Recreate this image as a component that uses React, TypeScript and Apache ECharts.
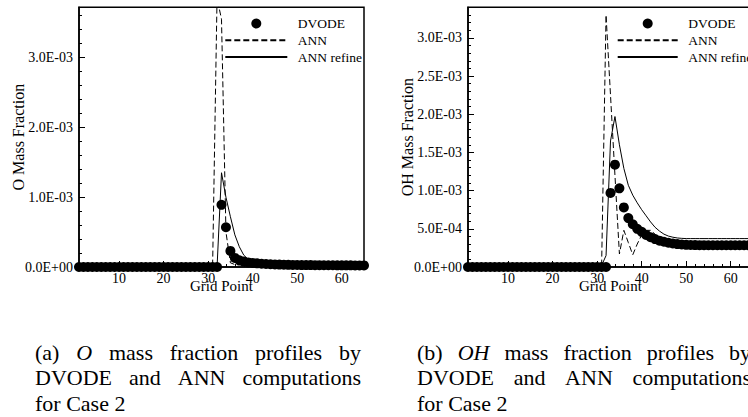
import React, { useEffect, useRef } from "react";
import * as echarts from "echarts";

// Grid point indices (x axis)
const gridPoints = [
  1, 2, 3, 4, 5, 6, 7, 8, 9, 10, 11, 12, 13, 14, 15, 16, 17, 18, 19, 20,
  21, 22, 23, 24, 25, 26, 27, 28, 29, 30, 31, 32, 33, 34, 35, 36, 37, 38, 39, 40,
  41, 42, 43, 44, 45, 46, 47, 48, 49, 50, 51, 52, 53, 54, 55, 56, 57, 58, 59, 60,
  61, 62, 63, 64, 65,
];

// Tick positions
const xMajorTicks = [10, 20, 30, 40, 50, 60];
const xMinorTicks = [2, 4, 6, 8, 12, 14, 16, 18, 22, 24, 26, 28, 32, 34, 36, 38, 42, 44, 46, 48, 52, 54, 56, 58, 62, 64];
const oMajorTicks = [0, 0.001, 0.002, 0.003];
const oMinorTicks = [0.0002, 0.0004, 0.0006, 0.0008, 0.0012, 0.0014, 0.0016, 0.0018, 0.0022, 0.0024, 0.0026, 0.0028, 0.0032, 0.0034, 0.0036];
const ohMajorTicks = [0, 0.0005, 0.001, 0.0015, 0.002, 0.0025, 0.003];
const ohMinorTicks = [
  0.0001, 0.0002, 0.0003, 0.0004, 0.0006, 0.0007, 0.0008, 0.0009, 0.0011, 0.0012, 0.0013, 0.0014,
  0.0016, 0.0017, 0.0018, 0.0019, 0.0021, 0.0022, 0.0023, 0.0024, 0.0026, 0.0027, 0.0028, 0.0029,
  0.0031, 0.0032, 0.0033,
];
const oYMax = 0.00372;
const ohYMax = 0.0034;

// Values in units of 1E-03
const UNIT = 0.001;
const oDvode = [
  0, 0, 0, 0, 0, 0, 0, 0, 0, 0, 0, 0, 0, 0, 0, 0, 0, 0, 0, 0, 0, 0, 0, 0, 0, 0, 0, 0, 0, 0, 0, 0,
  0.89, 0.57, 0.23, 0.13, 0.095, 0.078, 0.066, 0.058, 0.052, 0.047, 0.043, 0.04, 0.037, 0.035, 0.033,
  0.031, 0.03, 0.029, 0.028, 0.027, 0.027, 0.026, 0.026, 0.025, 0.025, 0.025, 0.024, 0.024, 0.024,
  0.024, 0.023, 0.023, 0.023,
];
const oAnn = [
  0, 0, 0, 0, 0, 0, 0, 0, 0, 0, 0, 0, 0, 0, 0, 0, 0, 0, 0, 0, 0, 0, 0, 0, 0, 0, 0, 0, 0, 0, 0,
  3.85, 3.55, 0.5, 0.06, 0.035, 0.03, 0.03, 0.028, 0.027, 0.026, 0.025, 0.025, 0.024, 0.024, 0.023,
  0.023, 0.023, 0.022, 0.022, 0.022, 0.022, 0.021, 0.021, 0.021, 0.021, 0.021, 0.02, 0.02, 0.02,
  0.02, 0.02, 0.02, 0.02, 0.02,
];
const oRefine = [
  0, 0, 0, 0, 0, 0, 0, 0, 0, 0, 0, 0, 0, 0, 0, 0, 0, 0, 0, 0, 0, 0, 0, 0, 0, 0, 0, 0, 0, 0, 0, 0,
  1.35, 1.0, 0.72, 0.46, 0.29, 0.17, 0.11, 0.08, 0.065, 0.055, 0.05, 0.045, 0.042, 0.04, 0.039,
  0.038, 0.037, 0.036, 0.035, 0.035, 0.035, 0.035, 0.035, 0.035, 0.035, 0.035, 0.035, 0.035, 0.035,
  0.035, 0.035, 0.035, 0.035,
];
const ohDvode = [
  0, 0, 0, 0, 0, 0, 0, 0, 0, 0, 0, 0, 0, 0, 0, 0, 0, 0, 0, 0, 0, 0, 0, 0, 0, 0, 0, 0, 0, 0, 0, 0,
  0.97, 1.34, 1.03, 0.78, 0.64, 0.56, 0.5, 0.46, 0.42, 0.39, 0.365, 0.345, 0.33, 0.318, 0.308, 0.3,
  0.295, 0.29, 0.288, 0.287, 0.286, 0.286, 0.285, 0.285, 0.285, 0.285, 0.285, 0.285, 0.285, 0.285,
  0.285, 0.285, 0.285,
];
const ohAnn = [
  0, 0, 0, 0, 0, 0, 0, 0, 0, 0, 0, 0, 0, 0, 0, 0, 0, 0, 0, 0, 0, 0, 0, 0, 0, 0, 0, 0, 0, 0, 0,
  3.3, 2.25, 1.2, 0.17, 0.48, 0.32, 0.16, 0.3, 0.42, 0.48, 0.48, 0.43, 0.37, 0.33, 0.31, 0.3, 0.295,
  0.29, 0.29, 0.29, 0.29, 0.29, 0.29, 0.29, 0.29, 0.29, 0.29, 0.29, 0.29, 0.29, 0.29, 0.29, 0.29, 0.29,
];
const ohRefine = [
  0, 0, 0, 0, 0, 0, 0, 0, 0, 0, 0, 0, 0, 0, 0, 0, 0, 0, 0, 0, 0, 0, 0, 0, 0, 0, 0, 0, 0, 0,
  0.02, 0.15, 1.65, 1.97, 1.6, 1.29, 1.07, 0.94, 0.84, 0.75, 0.67, 0.59, 0.52, 0.47, 0.43, 0.405,
  0.39, 0.38, 0.375, 0.372, 0.372, 0.372, 0.372, 0.372, 0.372, 0.372, 0.372, 0.372, 0.372, 0.372,
  0.372, 0.372, 0.372, 0.372, 0.372,
];

const seriesNames = ["DVODE", "ANN", "ANN refine"];

// Captions: [word, italic]
const captionA: [string, boolean][][] = [
  [["(a)", false], ["O", true], ["mass", false], ["fraction", false], ["profiles", false], ["by", false]],
  [["DVODE", false], ["and", false], ["ANN", false], ["computations", false]],
  [["for", false], ["Case", false], ["2", false]],
];
const captionB: [string, boolean][][] = [
  [["(b)", false], ["OH", true], ["mass", false], ["fraction", false], ["profiles", false], ["by", false]],
  [["DVODE", false], ["and", false], ["ANN", false], ["computations", false]],
  [["for", false], ["Case", false], ["2", false]],
];

const FONT = '"Liberation Serif", "Times New Roman", serif';
const CAP_SIZE = 22;

const fmtE = (v: number) => {
  if (Math.abs(v) < 1e-12) return "0.0E+00";
  const [m, e] = v.toExponential(1).split("e");
  const n = parseInt(e, 10);
  return `${m}E${n < 0 ? "-" : "+"}${String(Math.abs(n)).padStart(2, "0")}`;
};

const toPairs = (vals: number[]) => gridPoints.map((x, i) => [x, vals[i] * UNIT]);

function buildCaption(lines: [string, boolean][][], x0: number, width: number, y0: number, lh: number) {
  const canvas = document.createElement("canvas");
  const ctx = canvas.getContext("2d")!;
  const measure = (t: string, it: boolean) => {
    ctx.font = `${it ? "italic " : ""}${CAP_SIZE}px ${FONT}`;
    return ctx.measureText(t).width;
  };
  const els: any[] = [];
  lines.forEach((words, li) => {
    const widths = words.map(([t, it]) => measure(t, it));
    const total = widths.reduce((a, b) => a + b, 0);
    const justify = li < lines.length - 1;
    const gap = justify ? (width - total) / (words.length - 1) : measure(" ", false);
    let x = x0;
    words.forEach(([t, it], wi) => {
      els.push({
        type: "text",
        x,
        y: y0 + li * lh,
        style: {
          text: t,
          fontSize: CAP_SIZE,
          fontFamily: FONT,
          fontStyle: it ? "italic" : "normal",
          fill: "#000",
          align: "left",
          verticalAlign: "middle",
        },
      });
      x += widths[wi] + gap;
    });
  });
  return els;
}

export default function App() {
  const ref = useRef<HTMLDivElement>(null);

  useEffect(() => {
    if (!ref.current) return;
    const chart = echarts.init(ref.current, null, { renderer: "svg" });

    const gridH = 259.7;
    const grids = [
      { left: 79, top: 7.3, width: 285, height: gridH },
      { left: 468, top: 7.3, width: 285, height: gridH },
    ].map((g) => ({
      ...g,
      show: true,
      borderColor: "#000",
      borderWidth: 1.5,
      backgroundColor: "transparent",
      containLabel: false,
      outerBoundsMode: "none",
    }));

    const labelStyle = { color: "#000", fontFamily: FONT, fontSize: 14 };

    const xMajor = (gi: number) => ({
      type: "value",
      gridIndex: gi,
      position: "bottom",
      min: 1,
      max: 65,
      name: "Grid Point",
      nameLocation: "middle",
      nameGap: 11,
      nameMoveOverlap: false,
      nameTextStyle: { color: "#000", fontFamily: FONT, fontSize: 15, verticalAlign: "top" },
      axisLine: { show: true, lineStyle: { color: "#000", width: 1.5 } },
      axisTick: { show: true, inside: true, length: 6, customValues: xMajorTicks, lineStyle: { color: "#000", width: 1 } },
      axisLabel: { show: true, customValues: xMajorTicks, margin: 4, ...labelStyle },
      splitLine: { show: false },
    });
    const xMinor = (gi: number) => ({
      type: "value",
      gridIndex: gi,
      position: "bottom",
      min: 1,
      max: 65,
      axisLine: { show: false },
      axisTick: { show: true, inside: true, length: 3, customValues: xMinorTicks, lineStyle: { color: "#000", width: 1 } },
      axisLabel: { show: false },
      splitLine: { show: false },
    });
    const yMajor = (gi: number, max: number, ticks: number[], name: string) => ({
      type: "value",
      gridIndex: gi,
      position: "left",
      min: 0,
      max,
      name,
      nameLocation: "middle",
      nameGap: 53,
      nameMoveOverlap: false,
      nameTextStyle: { color: "#000", fontFamily: FONT, fontSize: 16 },
      axisLine: { show: true, lineStyle: { color: "#000", width: 1.5 } },
      axisTick: { show: true, inside: true, length: 6, customValues: ticks, lineStyle: { color: "#000", width: 1 } },
      axisLabel: { show: true, customValues: ticks, margin: 6, formatter: (v: number) => fmtE(v), ...labelStyle },
      splitLine: { show: false },
    });
    const yMinor = (gi: number, max: number, ticks: number[]) => ({
      type: "value",
      gridIndex: gi,
      position: "left",
      min: 0,
      max,
      axisLine: { show: false },
      axisTick: { show: true, inside: true, length: 3, customValues: ticks, lineStyle: { color: "#000", width: 1 } },
      axisLabel: { show: false },
      splitLine: { show: false },
    });

    const mkSeries = (xi: number, yi: number, dv: number[], ann: number[], ref2: number[]) => [
      {
        name: seriesNames[0],
        type: "scatter",
        xAxisIndex: xi,
        yAxisIndex: yi,
        data: toPairs(dv),
        symbol: "circle",
        symbolSize: 10,
        itemStyle: { color: "#000", opacity: 1 },
        clip: false,
        z: 4,
      },
      {
        name: seriesNames[1],
        type: "line",
        xAxisIndex: xi,
        yAxisIndex: yi,
        data: toPairs(ann),
        symbol: "none",
        showSymbol: false,
        lineStyle: { color: "#000", width: 1, type: [6, 3] },
        itemStyle: { color: "#000" },
        z: 2,
      },
      {
        name: seriesNames[2],
        type: "line",
        xAxisIndex: xi,
        yAxisIndex: yi,
        data: toPairs(ref2),
        symbol: "none",
        showSymbol: false,
        lineStyle: { color: "#000", width: 1, type: "solid" },
        itemStyle: { color: "#000" },
        z: 3,
      },
    ];

    const legendBase = {
      orient: "vertical",
      padding: 0,
      itemGap: 2.8,
      itemHeight: 10,
      selectedMode: false,
      formatter: (n: string) => `{g| }${n}`,
      textStyle: {
        color: "#000",
        fontFamily: FONT,
        fontSize: 13.5,
        rich: { g: { width: 5.5, fontSize: 13.5, fontFamily: FONT } },
      },
      data: [
        { name: seriesNames[0], icon: "circle", itemStyle: { color: "#000", opacity: 1 } },
        { name: seriesNames[1], itemStyle: { opacity: 0 } },
        { name: seriesNames[2], itemStyle: { opacity: 0 } },
      ],
    };

    chart.setOption({
      animation: false,
      backgroundColor: "#fff",
      textStyle: { fontFamily: FONT },
      grid: grids,
      xAxis: [xMajor(0), xMinor(0), xMajor(1), xMinor(1)],
      yAxis: [
        yMajor(0, oYMax, oMajorTicks, "O Mass Fraction"),
        yMinor(0, oYMax, oMinorTicks),
        yMajor(1, ohYMax, ohMajorTicks, "OH Mass Fraction"),
        yMinor(1, ohYMax, ohMinorTicks),
      ],
      legend: [
        { ...legendBase, left: 224.3, top: 16.5, itemWidth: 62 },
        { ...legendBase, left: 616.7, top: 16.5, itemWidth: 60 },
      ],
      series: [...mkSeries(0, 0, oDvode, oAnn, oRefine), ...mkSeries(2, 2, ohDvode, ohAnn, ohRefine)],
      graphic: [
        ...buildCaption(captionA, 35, 326, 352, 25.5),
        ...buildCaption(captionB, 417, 334, 352, 25.5),
      ],
    });

    return () => chart.dispose();
  }, []);

  return (
    <div
      ref={ref}
      style={{ position: "fixed", left: 0, top: 0, width: 748, height: 417, background: "#fff" }}
    />
  );
}
